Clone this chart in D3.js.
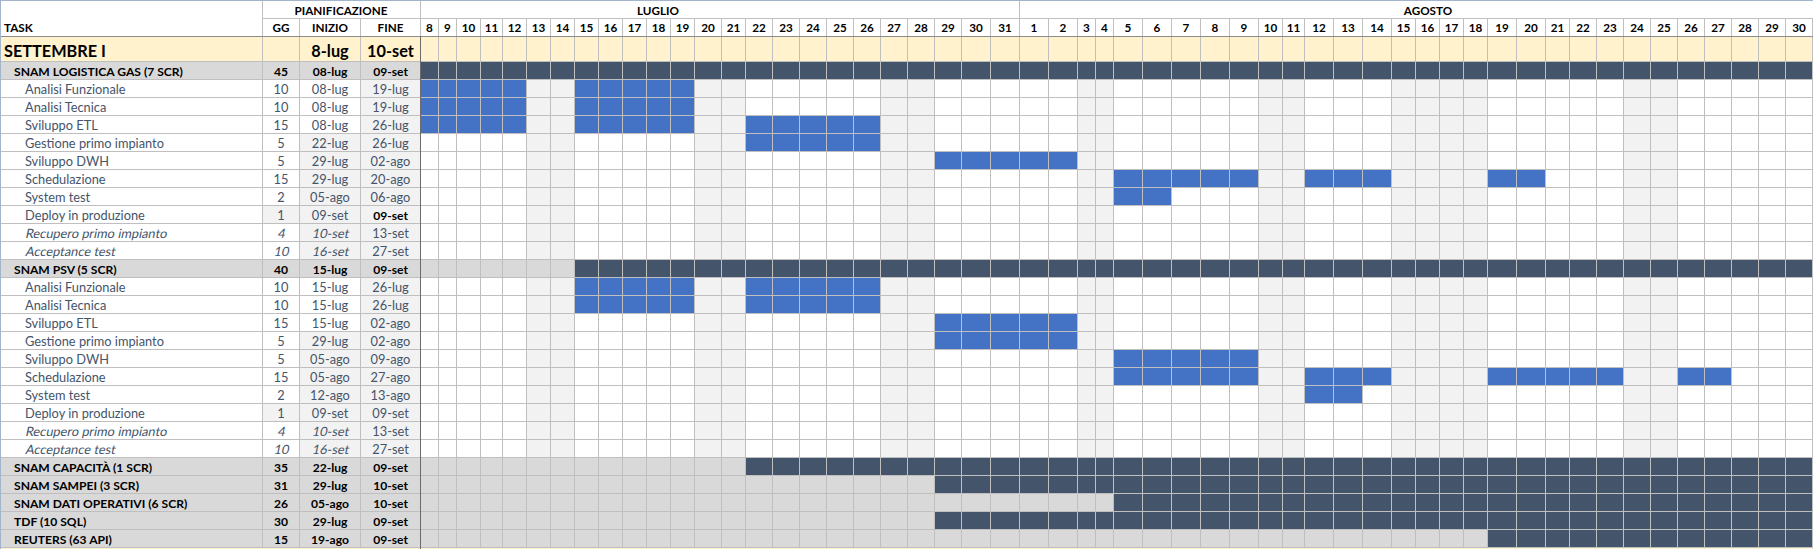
<!DOCTYPE html>
<html><head><meta charset="utf-8">
<script src="https://cdn.jsdelivr.net/npm/d3@7"></script>
<style>
body{margin:0;background:#fff}
svg{display:block}
text{font-family:Lato,"Open Sans",sans-serif}
</style>
</head><body>
<svg id="c" width="1813" height="549"></svg>
<script>
// ---------------- DATA ----------------
const julDays = [8,9,10,11,12,13,14,15,16,17,18,19,20,21,22,23,24,25,26,27,28,29,30,31];
const augDays = [1,2,3,4,5,6,7,8,9,10,11,12,13,14,15,16,17,18,19,20,21,22,23,24,25,26,27,28,29,30];
const monthNames = ["LUGLIO","AGOSTO"];
const nonWorkingDays = ["07-13","07-14","07-20","07-21","07-27","07-28",
  "08-03","08-04","08-10","08-11","08-15","08-16","08-17","08-18","08-24","08-25"];

const titleName = "SETTEMBRE I";
const titleStart = "8-lug";
const titleEnd = "10-set";

const taskNames = [
  "SNAM LOGISTICA GAS (7 SCR)",
  "Analisi Funzionale","Analisi Tecnica","Sviluppo ETL","Gestione primo impianto","Sviluppo DWH",
  "Schedulazione","System test","Deploy in produzione","Recupero primo impianto","Acceptance test",
  "SNAM PSV (5 SCR)",
  "Analisi Funzionale","Analisi Tecnica","Sviluppo ETL","Gestione primo impianto","Sviluppo DWH",
  "Schedulazione","System test","Deploy in produzione","Recupero primo impianto","Acceptance test",
  "SNAM CAPACITÀ (1 SCR)","SNAM SAMPEI (3 SCR)","SNAM DATI OPERATIVI (6 SCR)","TDF (10 SQL)","REUTERS (63 API)"
];
const taskKinds = [
  "group","task","task","task","task","task","task","task","task","optional","optional",
  "group","task","task","task","task","task","task","task","task","optional","optional",
  "group","group","group","group","group"
];
const taskDays = [45,10,10,15,5,5,15,2,1,4,10, 40,10,10,15,5,5,15,2,1,4,10, 35,31,26,30,15];
const taskStart = ["08-lug","08-lug","08-lug","08-lug","22-lug","29-lug","29-lug","05-ago","09-set","10-set","16-set",
  "15-lug","15-lug","15-lug","15-lug","29-lug","05-ago","05-ago","12-ago","09-set","10-set","16-set",
  "22-lug","29-lug","05-ago","29-lug","19-ago"];
const taskEnd = ["09-set","19-lug","19-lug","26-lug","26-lug","02-ago","20-ago","06-ago","09-set","13-set","27-set",
  "09-set","26-lug","26-lug","02-ago","02-ago","09-ago","27-ago","13-ago","09-set","13-set","27-set",
  "09-set","10-set","10-set","09-set","09-set"];
// bar spans as drawn in the visible window (month-day); null = not visible, "end" = beyond window
const barFrom = ["07-08","07-08","07-08","07-08","07-22","07-29","08-05","08-05",null,null,null,
  "07-15","07-15","07-15","07-29","07-29","08-05","08-05","08-12",null,null,null,
  "07-22","07-29","08-05","07-29","08-19"];
const barTo = ["end","07-19","07-19","07-26","07-26","08-02","08-20","08-06",null,null,null,
  "end","07-26","07-26","08-02","08-02","08-09","08-27","08-13",null,null,null,
  "end","end","end","end","end"];

// ---------------- LAYOUT / STYLE ----------------
const colWidths = [18,18,24,22,24,24,24,24,24,24,24,24,27,24,27,27,27,27,27,27,27,27,29,29,
  29,29,18,18,29,29,29,29,29,24,22,29,29,29,24,24,24,24,29,29,24,27,27,27,27,27,27,27,27,27];
// shaded left cells per row: G = GG, I = INIZIO, F = FINE
const leftShade = ["","F","F","F","IF","IF","IF","IF","GIF","IF","IF",
  "","F","F","F","IF","IF","IF","IF","GIF","IF","IF","","","","",""];
const boldEndRows = [8];
const monthLabelX = [658, 1428];

const C = {
  grid:"#bfbfbf", groupBar:"#44546a", taskBar:"#4472c4", weekend:"#f2f2f2",
  groupBg:"#d9d9d9", title:"#fff2cc", sub:"#44546a", dark:"#6b6b6b", hdrLine:"#8c8c8c"
};
const W = 1813, H = 549;
const colTask = [0,262], colGG=[262,299], colIni=[299,360], colFin=[360,420];
const chartX0 = 420;
const rowH = 18, rowsTop = 61;

const svg = d3.select("#c");

// font-size calibration against widths measured on the reference
function fitSize(str, weight, target) {
  const t = svg.append("text").attr("font-size", 100).attr("font-weight", weight).text(str);
  const len = t.node().getComputedTextLength();
  t.remove();
  return 100 * target / len;
}
const fsNormal = fitSize("Gestione primo impianto", "normal", 139);
const fsBold = fitSize("SNAM LOGISTICA GAS (7 SCR)", "bold", 169);
const fsHead = fitSize("PIANIFICAZIONE", "bold", 93);
const fsTitle = fitSize("SETTEMBRE I", "bold", 102);

// scales
const dayKeys = julDays.map(d => "07-" + String(d).padStart(2,"0"))
  .concat(augDays.map(d => "08-" + String(d).padStart(2,"0")));
const dayLabels = julDays.concat(augDays);
const lefts = [];
let acc = chartX0;
colWidths.forEach(w => { lefts.push(acc); acc += w; });
const xL = d3.scaleOrdinal().domain(dayKeys).range(lefts);
const xW = d3.scaleOrdinal().domain(dayKeys).range(colWidths);
const rowIdx = taskNames.map((_, i) => i);
const y = d3.scaleBand().domain(rowIdx).range([rowsTop, rowsTop + rowIdx.length * rowH]);

const isOff = k => nonWorkingDays.includes(k);

// background
svg.append("rect").attr("width", W).attr("height", H).attr("fill", "#fff");
svg.append("rect").attr("x",0).attr("y", y.range()[1]).attr("width", W).attr("height", H - y.range()[1]).attr("fill", C.title);

// ---------- title row ----------
const tTop = 36, tH = 25;
svg.append("rect").attr("x",0).attr("y",tTop).attr("width",W).attr("height",tH).attr("fill",C.title);

// ---------- chart cells ----------
const cells = [];
rowIdx.forEach(r => {
  dayKeys.forEach(k => {
    let fill;
    const from = barFrom[r], to = barTo[r];
    const inBar = from !== null && k >= from && (to === "end" || k <= to);
    if (taskKinds[r] === "group") {
      fill = inBar ? C.groupBar : C.groupBg;
    } else {
      if (isOff(k)) fill = C.weekend;
      else fill = inBar ? C.taskBar : "#fff";
    }
    cells.push({r, k, fill});
  });
});
svg.append("g").selectAll("rect").data(cells).join("rect")
  .attr("x", d => xL(d.k) + 0.5)
  .attr("y", d => y(d.r) + 0.5)
  .attr("width", d => xW(d.k))
  .attr("height", rowH)
  .attr("fill", d => d.fill)
  .attr("stroke", C.grid).attr("stroke-width", 1);

svg.append("g").selectAll("rect").data(dayKeys).join("rect")
  .attr("x", k => xL(k) + 0.5).attr("y", tTop + 0.5)
  .attr("width", k => xW(k)).attr("height", tH)
  .attr("fill", C.title).attr("stroke", C.grid);

svg.append("g").selectAll("rect").data(dayKeys).join("rect")
  .attr("x", k => xL(k) + 0.5).attr("y", 18.5)
  .attr("width", k => xW(k)).attr("height", 18)
  .attr("fill", "#fff").attr("stroke", C.grid);

// ---------- left table ----------
const leftCols = [
  {key:"T", x:colTask}, {key:"G", x:colGG}, {key:"I", x:colIni}, {key:"F", x:colFin}
];
const leftCells = [];
rowIdx.forEach(r => {
  leftCols.forEach(c => {
    let fill = "#fff";
    if (taskKinds[r] === "group") fill = C.groupBg;
    else if (leftShade[r].includes(c.key)) fill = C.weekend;
    leftCells.push({r, c, fill});
  });
});
svg.append("g").selectAll("rect").data(leftCells).join("rect")
  .attr("x", d => d.c.x[0] + 0.5).attr("y", d => y(d.r) + 0.5)
  .attr("width", d => d.c.x[1] - d.c.x[0]).attr("height", rowH)
  .attr("fill", d => d.fill).attr("stroke", C.grid);
svg.append("g").selectAll("rect").data(leftCols).join("rect")
  .attr("x", c => c.x[0] + 0.5).attr("y", tTop + 0.5)
  .attr("width", c => c.x[1] - c.x[0]).attr("height", tH)
  .attr("fill", C.title).attr("stroke", C.grid);
svg.append("g").selectAll("rect").data(leftCols.slice(1)).join("rect")
  .attr("x", c => c.x[0] + 0.5).attr("y", 18.5)
  .attr("width", c => c.x[1] - c.x[0]).attr("height", 18)
  .attr("fill", "#fff").attr("stroke", C.grid);

const hl = svg.append("g").attr("stroke", C.grid).attr("shape-rendering","crispEdges");
hl.append("line").attr("x1", colGG[0]).attr("x2", W).attr("y1", 18.5).attr("y2", 18.5);
[colGG[0], chartX0, xL("08-01")].forEach(xx =>
  hl.append("line").attr("x1", xx + 0.5).attr("x2", xx + 0.5).attr("y1", 0).attr("y2", 18.5));

svg.append("line").attr("x1",0).attr("x2",W).attr("y1",36.5).attr("y2",36.5)
  .attr("stroke", C.hdrLine);
svg.append("line").attr("x1",chartX0+0.5).attr("x2",chartX0+0.5).attr("y1",36).attr("y2",H)
  .attr("stroke", C.dark);
svg.append("line").attr("x1",0).attr("x2",W).attr("y1",0.5).attr("y2",0.5).attr("stroke","#a3b5cd");
svg.append("line").attr("x1",0.5).attr("x2",0.5).attr("y1",0).attr("y2",H).attr("stroke","#a3b5cd");

// ---------- texts ----------
const T = svg.append("g");
T.append("text").attr("x", (colGG[0] + colFin[1]) / 2).attr("y", 15)
  .attr("text-anchor","middle").attr("font-weight","bold").attr("font-size",fsHead).text("PIANIFICAZIONE");
T.selectAll(".mon").data(monthNames).join("text")
  .attr("x", (d,i) => monthLabelX[i]).attr("y", 15)
  .attr("text-anchor","middle").attr("font-weight","bold").attr("font-size",fsHead).text(d => d);
T.append("text").attr("x",4).attr("y",32.3).attr("font-weight","bold").attr("font-size",fsHead).text("TASK");
[["GG",colGG],["INIZIO",colIni],["FINE",colFin]].forEach(([t,c]) =>
  T.append("text").attr("x",(c[0]+c[1])/2+0.5).attr("y",32.3).attr("text-anchor","middle")
   .attr("font-weight","bold").attr("font-size",fsHead).text(t));
T.selectAll(".day").data(dayKeys).join("text")
  .attr("x", k => xL(k) + xW(k)/2 + 0.5).attr("y", 32.3)
  .attr("text-anchor","middle").attr("font-weight","bold").attr("font-size",fsHead)
  .text((k,i) => dayLabels[i]);
T.append("text").attr("x",4).attr("y",56.5).attr("font-weight","bold").attr("font-size",fsTitle).text(titleName);
T.append("text").attr("x",(colIni[0]+colIni[1])/2+0.5).attr("y",56.5).attr("text-anchor","middle")
  .attr("font-weight","bold").attr("font-size",fsTitle).text(titleStart);
T.append("text").attr("x",(colFin[0]+colFin[1])/2+0.5).attr("y",56.5).attr("text-anchor","middle")
  .attr("font-weight","bold").attr("font-size",fsTitle).text(titleEnd);

rowIdx.forEach(r => {
  const kind = taskKinds[r];
  const g = kind === "group";
  const it = kind === "optional";
  const col = g ? "#000" : C.sub;
  const by = y(r) + 14.5;
  const mk = (x, txt, anchor, bold, italic, color) =>
    T.append("text")
      .attr("transform", `translate(${x},${by})` + (italic ? " skewX(-12)" : ""))
      .attr("text-anchor", anchor)
      .attr("font-size", bold ? fsBold : fsNormal).attr("font-weight", bold ? "bold" : "normal")
      .attr("fill", color).text(txt);
  mk(g ? 14 : 25, taskNames[r], "start", g, it, col);
  mk((colGG[0]+colGG[1])/2+0.5, taskDays[r], "middle", g, it, col);
  mk((colIni[0]+colIni[1])/2+0.5, taskStart[r], "middle", g, it, col);
  const bEnd = g || boldEndRows.includes(r);
  mk((colFin[0]+colFin[1])/2+0.5, taskEnd[r], "middle", bEnd, false, bEnd ? "#000" : col);
});
</script>
</body></html>
